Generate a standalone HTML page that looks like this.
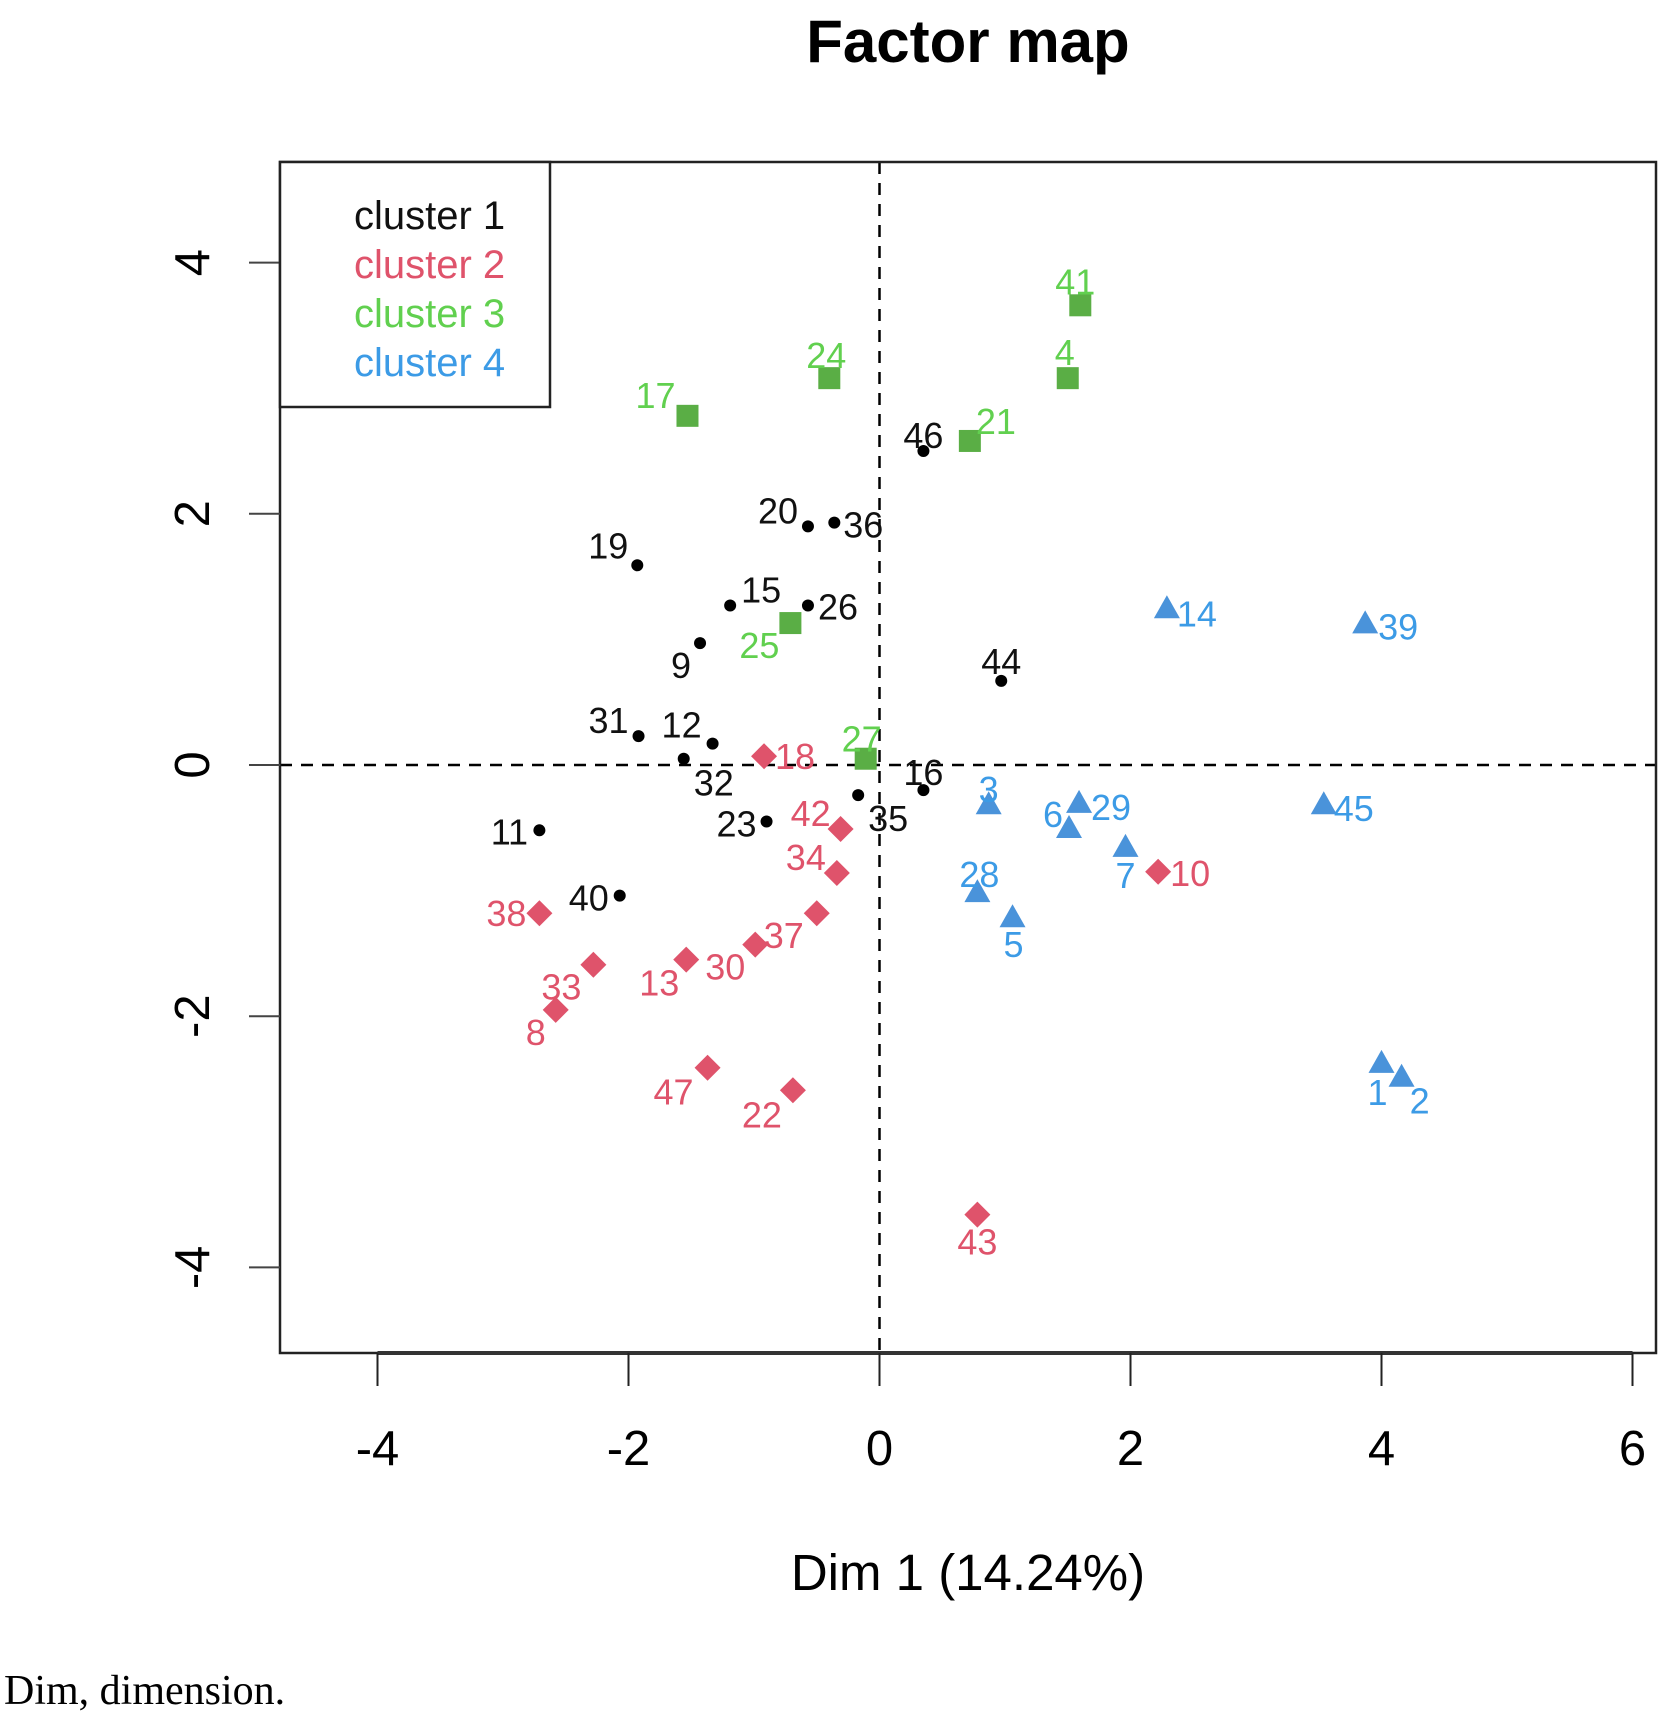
<!DOCTYPE html>
<html><head><meta charset="utf-8"><style>
body{margin:0;background:#fff;}
svg{display:block;font-family:"Liberation Sans",sans-serif;}
</style></head><body>
<svg id="chart" width="1667" height="1717" viewBox="0 0 1667 1717">
<text x="968" y="62" text-anchor="middle" font-size="60" font-weight="bold">Factor map</text>
<g id="plot"></g>
<text x="968" y="1590" text-anchor="middle" font-size="51">Dim 1 (14.24%)</text>
<text x="4" y="1704" font-family="Liberation Serif, serif" font-size="42">Dim, dimension.</text>
</svg>
<script>
const xTicks=[-4,-2,0,2,4,6];
const yTicks=[-4,-2,0,2,4];
const ids=[46,20,36,19,15,26,9,44,31,12,32,16,35,23,11,40,
18,42,34,10,38,37,30,13,33,8,47,22,43,
41,4,24,17,21,25,27,
14,39,3,6,29,45,7,28,5,1,2];
const dim1=[0.35,-0.57,-0.36,-1.93,-1.19,-0.57,-1.43,0.97,-1.92,-1.33,-1.56,0.35,-0.17,-0.9,-2.71,-2.07,
-0.92,-0.31,-0.34,2.22,-2.71,-0.5,-0.99,-1.54,-2.28,-2.58,-1.37,-0.69,0.78,
1.6,1.5,-0.4,-1.53,0.72,-0.71,-0.11,
2.29,3.87,0.87,1.51,1.59,3.54,1.96,0.78,1.06,4.0,4.16];
const dim2=[2.5,1.9,1.93,1.59,1.27,1.27,0.97,0.67,0.23,0.17,0.05,-0.2,-0.24,-0.45,-0.52,-1.04,
0.07,-0.51,-0.86,-0.85,-1.18,-1.18,-1.43,-1.55,-1.59,-1.95,-2.41,-2.59,-3.58,
3.66,3.08,3.08,2.78,2.58,1.13,0.05,
1.24,1.12,-0.32,-0.51,-0.31,-0.32,-0.66,-1.02,-1.22,-2.38,-2.49];
const cluster=[1,1,1,1,1,1,1,1,1,1,1,1,1,1,1,1,
2,2,2,2,2,2,2,2,2,2,2,2,2,
3,3,3,3,3,3,3,
4,4,4,4,4,4,4,4,4,4,4];
const legendLabels=["cluster 1","cluster 2","cluster 3","cluster 4"];
// label offsets (styling, pixels)
const lblOff=[[0,-16],[-30,-16],[29,2],[-29,-20],[31,-16],[30,1],[-19,22],[0,-20],[-30,-16],[-31,-19],[30,24],[0,-18],[30,23],[-30,2],[-30,1],[-31,2],
[31,0],[-30,-16],[-31,-16],[32,1],[-33,0],[-33,22],[-30,22],[-27,23],[-32,22],[-20,22],[-34,24],[-31,24],[0,27],
[-5,-24],[-3,-26],[-3,-23],[-32,-21],[26,-20],[-31,22],[-4,-20],
[30,4],[33,2],[0,-16],[-16,-15],[32,3],[30,3],[0,27],[2,-19],[1,26],[-4,28],[18,23]];
const textCol={1:"#111",2:"#DF536B",3:"#61D04F",4:"#3C9BE6"};
const markCol={1:"#000",2:"#DF536B",3:"#5AAE45",4:"#4A93DA"};
const X0=879.5,XS=125.5,Y0=765,YS=125.6;
const xs=v=>X0+v*XS, ys=v=>Y0-v*YS;
const NS="http://www.w3.org/2000/svg";
const g=document.getElementById('plot');
function mk(t,a){const e=document.createElementNS(NS,t);for(const k in a)e.setAttribute(k,a[k]);g.appendChild(e);return e;}
const L=280,T=162,R=1656,B=1353;
let e;
e=mk('line',{x1:xs(0),y1:T,x2:xs(0),y2:B,stroke:'#000','stroke-width':2.5,'stroke-dasharray':'12,9'});


e=mk('line',{x1:L,y1:ys(0),x2:R,y2:ys(0),stroke:'#000','stroke-width':2.5,'stroke-dasharray':'12,9'});


e=mk('rect',{x:L,y:T,width:R-L,height:B-T,fill:'none',stroke:'#222','stroke-width':2.5});


e=mk('line',{x1:xs(xTicks[0]),y1:B,x2:xs(xTicks[xTicks.length-1]),y2:B,stroke:'#333','stroke-width':4});


xTicks.forEach(v=>{
 e=mk('line',{x1:xs(v),y1:B,x2:xs(v),y2:B+33,stroke:'#222','stroke-width':2});
 
 
 e=mk('text',{x:xs(v),y:1465,'text-anchor':'middle','font-size':49});
 e.textContent=String(v);
 
 
});
yTicks.forEach(v=>{
 e=mk('line',{x1:L-31,y1:ys(v),x2:L,y2:ys(v),stroke:'#444','stroke-width':2});
 
 
 e=mk('text',{x:0,y:0,'text-anchor':'middle','font-size':49,transform:`translate(209,${ys(v)}) rotate(-90)`});
 e.textContent=String(v);
 
 
});
ids.forEach((id,i)=>{
 const cx=xs(dim1[i]),cy=ys(dim2[i]),c=cluster[i],col=markCol[c];
 let m;
 if(c===1)m=mk('circle',{cx,cy,r:6,fill:col});
 else if(c===2)m=mk('polygon',{points:`${cx},${cy-13} ${cx+13},${cy} ${cx},${cy+13} ${cx-13},${cy}`,fill:col});
 else if(c===3)m=mk('rect',{x:cx-11,y:cy-11,width:22,height:22,fill:col});
 else m=mk('polygon',{points:`${cx},${cy-14} ${cx+13},${cy+9} ${cx-13},${cy+9}`,fill:col});
 
 
 const t=mk('text',{x:cx+lblOff[i][0],y:cy+lblOff[i][1]+13,'text-anchor':'middle','font-size':36,fill:textCol[c]});
 t.textContent=String(id);
 
 
});
e=mk('rect',{x:L,y:T,width:270,height:245,fill:'#fff',stroke:'#222','stroke-width':2.5});


legendLabels.forEach((s,i)=>{
 e=mk('text',{x:354,y:229+i*49,'font-size':40,fill:textCol[i+1]});
 e.textContent=s;
 
 
});
</script>
</body></html>
